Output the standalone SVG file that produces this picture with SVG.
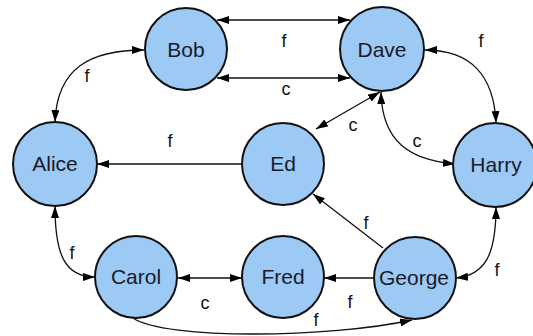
<svg xmlns="http://www.w3.org/2000/svg" width="533" height="336" viewBox="0 0 533 336">
<defs>
<marker id="ah" viewBox="0 0 12 8" refX="12" refY="4" markerWidth="12" markerHeight="8" markerUnits="userSpaceOnUse" orient="auto-start-reverse">
<path d="M0,0 L12,4 L0,8 z" fill="#000"/>
</marker>
<style>
.n circle{fill:#9CCAF5;stroke:#111;stroke-width:2}
.n text{font-family:"Liberation Sans",Arial,sans-serif;font-size:21px;fill:#1a1a2a;text-anchor:middle}
.e path{fill:none;stroke:#111;stroke-width:1.3}
.b{marker-start:url(#ah);marker-end:url(#ah)}
.s{marker-end:url(#ah)}
.l{font-family:"Liberation Sans",Arial,sans-serif;font-size:18px;fill:#111;text-anchor:middle}
</style>
</defs>
<rect width="533" height="336" fill="#fff"/>
<g id="connectors" class="e">
<path class="b" d="M217,20 L350,20"/>
<path class="b" d="M217,78 L350,78"/>
<path class="b" d="M144,50 C90,50 57,68 55,122"/>
<path class="s" d="M242,164 L97,164"/>
<path class="b" d="M316,129 L380,92"/>
<path class="b" d="M381,92 C382,142 410,160 455,164"/>
<path class="b" d="M425,50 C470,50 494,75 496,123"/>
<path class="s" d="M383,248 L313,194"/>
<path class="s" d="M373,278 L324,278"/>
<path class="b" d="M178,278 L242,278"/>
<path class="b" d="M55,206 C55,255 65,277 95,277"/>
<path class="b" d="M496,207 C496,255 485,275 456,278"/>
<path class="s" d="M133,318 C165,340 330,338 412,320"/>
<text class="l" x="284" y="47">f</text>
<text class="l" x="286" y="95">c</text>
<text class="l" x="87" y="82">f</text>
<text class="l" x="170" y="147">f</text>
<text class="l" x="353" y="131">c</text>
<text class="l" x="417" y="147">c</text>
<text class="l" x="481" y="47">f</text>
<text class="l" x="366" y="229">f</text>
<text class="l" x="350" y="308">f</text>
<text class="l" x="316" y="326">f</text>
<text class="l" x="497" y="276">f</text>
<text class="l" x="205" y="309">c</text>
<text class="l" x="72" y="259">f</text>
</g>
<g id="Bob" class="n"><circle cx="186" cy="49" r="41"/><text x="186" y="57">Bob</text></g>
<g id="Dave" class="n"><circle cx="382" cy="49" r="42"/><text x="382" y="57">Dave</text></g>
<g id="Alice" class="n"><circle cx="55" cy="164" r="42"/><text x="55" y="171">Alice</text></g>
<g id="Ed" class="n"><circle cx="283" cy="164" r="41"/><text x="283" y="171">Ed</text></g>
<g id="Harry" class="n"><circle cx="495" cy="165" r="42"/><text x="496" y="172">Harry</text></g>
<g id="Carol" class="n"><circle cx="136" cy="277" r="41"/><text x="136" y="284">Carol</text></g>
<g id="Fred" class="n"><circle cx="283" cy="277" r="41"/><text x="283" y="284">Fred</text></g>
<g id="George" class="n"><circle cx="415" cy="278" r="41"/><text x="414" y="285">George</text></g>
</svg>
